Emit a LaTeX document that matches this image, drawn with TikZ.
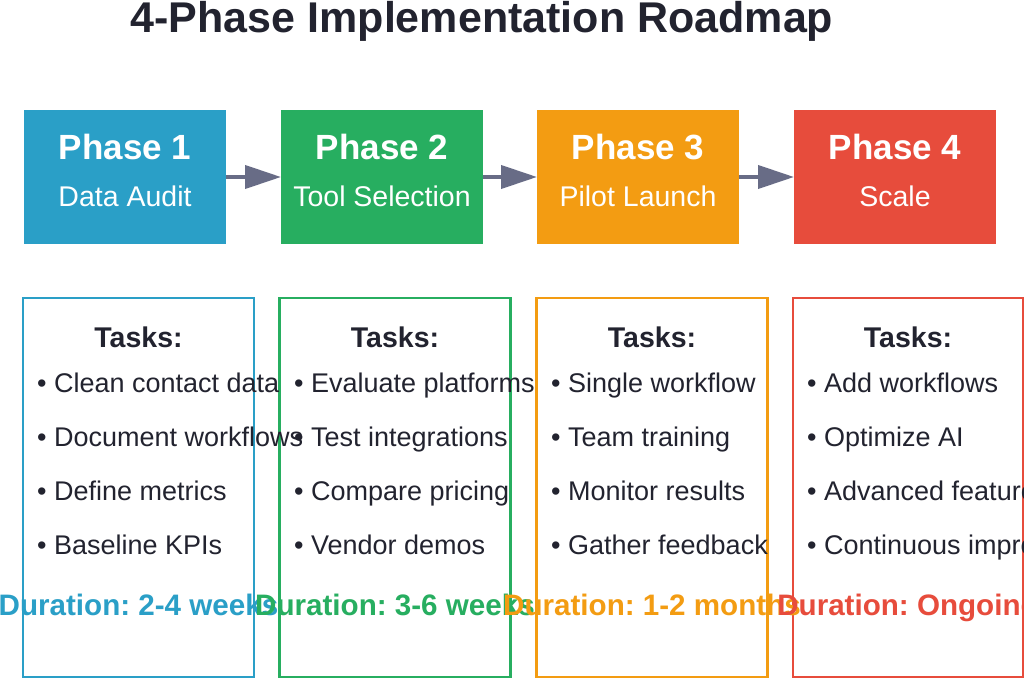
\documentclass[tikz,border=0pt]{standalone}
\usepackage{fontspec}
\setmainfont{Liberation Sans}
\usetikzlibrary{arrows.meta}
\definecolor{cblue}{HTML}{2A9FC7}
\definecolor{cgreen}{HTML}{27AE60}
\definecolor{corange}{HTML}{F39C12}
\definecolor{cred}{HTML}{E74C3C}
\definecolor{cdark}{HTML}{22232F}
\definecolor{carrow}{HTML}{686C86}
\frenchspacing
\begin{document}
\begin{tikzpicture}[x=1pt,y=-1pt,
  phasebox/.style={rectangle, minimum width=202pt, minimum height=134pt, inner sep=0pt, outer sep=0pt, draw=none},
  taskbox/.style={rectangle, minimum width=231pt, minimum height=379pt, inner sep=0pt, outer sep=0pt, line width=2.5pt, fill=none},
  flowarrow/.style={draw=carrow, line width=4pt, -{Triangle[length=36pt,width=23pt]}, shorten >=0pt},
  phtitle/.style={anchor=base, text=white, font=\fontsize{35}{40}\selectfont\bfseries, inner sep=0pt},
  phsub/.style={anchor=base, text=white, font=\fontsize{28.5}{33}\selectfont, inner sep=0pt},
  taskhead/.style={anchor=base, text=cdark, font=\fontsize{28.5}{33}\selectfont\bfseries, inner sep=0pt},
  taskitem/.style={anchor=base west, text=cdark, font=\fontsize{27}{32}\selectfont, inner sep=0pt},
  durtext/.style={anchor=base, font=\fontsize{29.6}{34}\selectfont\bfseries, inner sep=0pt}
]
\useasboundingbox (0,0) rectangle (1024,679);
\fill[white] (0,0) rectangle (1024,679);

% title
\node[anchor=base, text=cdark, font=\fontsize{43}{50}\selectfont\bfseries, inner sep=0pt] (title) at (482,33) {4-Phase Implementation Roadmap};

% phase boxes
\node[phasebox, fill=cblue]   (p1) at (125,177) {};
\node[phasebox, fill=cgreen]  (p2) at (382,177) {};
\node[phasebox, fill=corange] (p3) at (638,177) {};
\node[phasebox, fill=cred]    (p4) at (895,177) {};

\node[phtitle] (p1a) at (125,160) {Phase 1};
\node[phsub]   (p1b) at (125,206) {Data Audit};
\node[phtitle] (p2a) at (382,160) {Phase 2};
\node[phsub]   (p2b) at (382,206) {Tool Selection};
\node[phtitle] (p3a) at (638,160) {Phase 3};
\node[phsub]   (p3b) at (638,206) {Pilot Launch};
\node[phtitle] (p4a) at (895,160) {Phase 4};
\node[phsub]   (p4b) at (895,206) {Scale};

% arrows
\draw[flowarrow] (p1.east) -- (p2.west);
\draw[flowarrow] (p2.east) -- (p3.west);
\draw[flowarrow] (p3.east) -- (p4.west);

% task boxes
\node[taskbox, draw=cblue]   (t1) at (138.5,487.5) {};
\node[taskbox, draw=cgreen]  (t2) at (395,487.5) {};
\node[taskbox, draw=corange] (t3) at (652,487.5) {};
\node[taskbox, draw=cred, minimum width=230pt] (t4) at (908,487.5) {};

% column 1
\node[taskhead] (h1) at (138.5,347) {Tasks:};
\node[taskitem] (a1) at (37,392) {• Clean contact data};
\node[taskitem] (a2) at (37,446) {• Document workflows};
\node[taskitem] (a3) at (37,500) {• Define metrics};
\node[taskitem] (a4) at (37,554) {• Baseline KPIs};
\node[durtext, text=cblue] (d1) at (138.5,615) {Duration: 2-4 weeks};

% column 2
\node[taskhead] (h2) at (395,347) {Tasks:};
\node[taskitem] (b1) at (294,392) {• Evaluate platforms};
\node[taskitem] (b2) at (294,446) {• Test integrations};
\node[taskitem] (b3) at (294,500) {• Compare pricing};
\node[taskitem] (b4) at (294,554) {• Vendor demos};
\node[durtext, text=cgreen] (d2) at (395,615) {Duration: 3-6 weeks};

% column 3
\node[taskhead] (h3) at (652,347) {Tasks:};
\node[taskitem] (c1) at (551,392) {• Single workflow};
\node[taskitem] (c2) at (551,446) {• Team training};
\node[taskitem] (c3) at (551,500) {• Monitor results};
\node[taskitem] (c4) at (551,554) {• Gather feedback};
\node[durtext, text=corange] (d3) at (652,615) {Duration: 1-2 months};

% column 4
\node[taskhead] (h4) at (908,347) {Tasks:};
\node[taskitem] (e1) at (807,392) {• Add workflows};
\node[taskitem] (e2) at (807,446) {• Optimize AI};
\node[taskitem] (e3) at (807,500) {• Advanced features};
\node[taskitem] (e4) at (807,554) {• Continuous improvement};
\node[durtext, text=cred] (d4) at (908,615) {Duration: Ongoing};
\end{tikzpicture}
\end{document}
